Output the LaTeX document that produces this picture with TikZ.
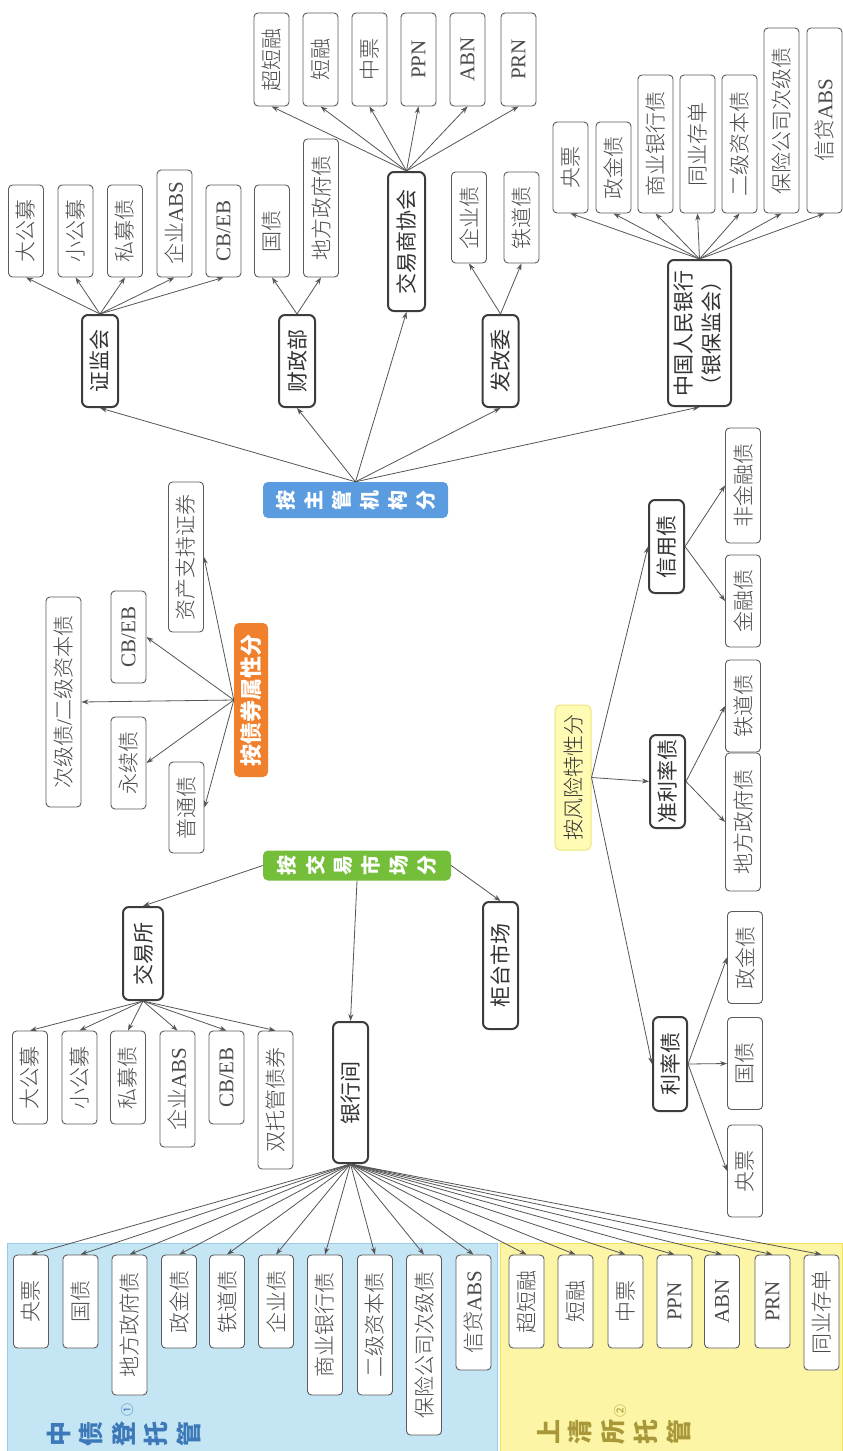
\documentclass[tikz,border=0pt]{standalone}
\usepackage{fontspec}
\usepackage{graphicx}
\setmainfont{Noto Sans CJK SC}
\IfFontExistsTF{Noto Sans CJK SC Light}{\newfontfamily\leaffont{Noto Sans CJK SC Light}}{\newfontfamily\leaffont{Noto Sans CJK SC}}
\newfontfamily\lat{Liberation Serif}
\usetikzlibrary{arrows.meta}
\definecolor{lineC}{HTML}{5C5C5C}
\definecolor{leafT}{HTML}{4A4A4A}
\definecolor{hubL}{HTML}{3C3C3C}
\definecolor{hubT}{HTML}{333333}
\definecolor{arrC}{HTML}{555555}
\definecolor{bgB}{HTML}{C4E5F3}
\definecolor{bgBL}{HTML}{9ACDE4}
\definecolor{bgY}{HTML}{FCF5A6}
\definecolor{bgYL}{HTML}{F0E05A}
\definecolor{grnA}{HTML}{74BE3A}
\definecolor{orgA}{HTML}{F0802C}
\definecolor{bluA}{HTML}{5B9BE0}
\definecolor{ylwF}{HTML}{FFFBB5}
\definecolor{ylwL}{HTML}{EDE57A}
\definecolor{lblB}{HTML}{3D79B8}
\definecolor{lblY}{HTML}{A8983A}
\newcommand\rc[1]{\rotatebox{90}{#1}}
\newcommand\lf[5]{\node[leaf,minimum height=#4pt] (#1) at (#2,#3) {\rc{#5}};}
\newcommand\hb[6]{\node[hub,minimum width=#4pt,minimum height=#5pt] (#1) at (#2,#3) {\rc{#6}};}
\newcommand\hg{\hspace{9pt}}
\begin{document}
\begin{tikzpicture}[x=1pt,y=-1pt,
  leaf/.style={draw=lineC, line width=0.9pt, rounded corners=4pt, fill=white, inner sep=0pt,
    minimum width=35pt, text=leafT, font=\leaffont\fontsize{21}{21}\selectfont},
  hub/.style={draw=hubL, line width=2pt, rounded corners=6pt, fill=white, inner sep=0pt,
    text=hubT, font=\fontsize{21}{28}\selectfont},
  hdr/.style={rounded corners=5pt, inner sep=0pt, text=white, font=\fontsize{20}{20}\selectfont\bfseries},
  arr/.style={draw=arrC, line width=0.8pt, -{Stealth[length=7pt,width=5pt]}},
  lbl/.style={inner sep=0pt, font=\fontsize{25}{25}\selectfont\bfseries}
]
\useasboundingbox (0,0) rectangle (843,1451);
\fill[white] (0,0) rectangle (843,1451);

% backgrounds
\draw[fill=bgB, draw=bgBL, line width=1pt] (7,1243) rectangle (497,1451);
\draw[fill=bgY, draw=bgYL, line width=1pt] (500,1243) rectangle (842,1451);

% ---------- 按主管机构分 ----------
\node[hdr, fill=bluA, minimum width=185pt, minimum height=36pt] (zgjg) at (355.5,500)
  {\rc{按}\hg\rc{主}\hg\rc{管}\hg\rc{机}\hg\rc{构}\hg\rc{分}};

\hb{zjh}{100}{361}{36}{92}{证监会}
\lf{zj1}{26}{231}{92}{大公募}
\lf{zj2}{75.5}{231}{92}{小公募}
\lf{zj3}{125}{231}{92}{私募债}
\lf{zj4}{174.5}{223.5}{107}{企业{\lat ABS}}
\lf{zj5}{223.5}{231}{92}{{\lat CB/EB}}

\hb{czb}{297}{361}{36}{92}{财政部}
\lf{cz1}{272}{231}{92}{国债}
\lf{cz2}{321}{208}{138}{地方政府债}

\hb{xh}{406.5}{241.5}{37}{139}{交易商协会}
\lf{xh1}{271.5}{59.5}{93}{超短融}
\lf{xh2}{320.5}{59.5}{93}{短融}
\lf{xh3}{369.5}{59.5}{93}{中票}
\lf{xh4}{418.5}{59.5}{93}{{\lat PPN}}
\lf{xh5}{467.5}{59.5}{93}{{\lat ABN}}
\lf{xh6}{518.5}{59.5}{93}{{\lat PRN}}

\hb{fgw}{500.5}{361}{36}{92}{发改委}
\lf{fg1}{469}{217.5}{91}{企业债}
\lf{fg2}{521.5}{217.5}{91}{铁道债}

\node[hub, minimum width=63pt, minimum height=146pt] (rmyh) at (699.5,333)
  {\rc{\begin{tabular}{@{}c@{}}中国人民银行\\（银保监会）\end{tabular}}};
\lf{yh1}{570.5}{167.5}{91}{央票}
\lf{yh2}{613.5}{167.5}{91}{政金债}
\lf{yh3}{655.5}{144}{138}{商业银行债}
\lf{yh4}{697.5}{144}{138}{同业存单}
\lf{yh5}{739.5}{144}{138}{二级资本债}
\lf{yh6}{781.5}{120.5}{185}{保险公司次级债}
\lf{yh7}{824.5}{120.5}{185}{信贷{\lat ABS}}

% ---------- 按债券属性分 ----------
\node[hdr, fill=orgA, minimum width=34pt, minimum height=154pt, font=\fontsize{22}{22}\selectfont\bfseries] (zxs) at (251,700) {\rc{按债券属性分}};
\lf{sx1}{186}{557}{150}{资产支持证券}
\lf{sx2}{128.5}{637}{92}{{\lat CB/EB}}
\lf{sx3}{63.5}{702}{210}{次级债{\lat /}二级资本债}
\lf{sx4}{128.5}{763}{92}{永续债}
\lf{sx5}{186.5}{807.5}{91}{普通债}

% ---------- 按交易市场分 ----------
\node[hdr, fill=grnA, minimum width=188pt, minimum height=30pt] (jysc) at (357,865.5)
  {\rc{按}\hg\rc{交}\hg\rc{易}\hg\rc{市}\hg\rc{场}\hg\rc{分}};
\hb{jyso}{143}{953.5}{40}{93}{交易所}
\hb{yhj}{350.5}{1092.5}{35}{141}{银行间}
\hb{gtsc}{500.5}{965.5}{35}{127}{柜台市场}
\lf{jo1}{30}{1077.5}{93}{大公募}
\lf{jo2}{79.5}{1077.5}{93}{小公募}
\lf{jo3}{128}{1077.5}{93}{私募债}
\lf{jo4}{177.5}{1089}{116}{企业{\lat ABS}}
\lf{jo5}{226.5}{1077.5}{93}{{\lat CB/EB}}
\lf{jo6}{275.5}{1100}{138}{双托管债券}

% bottom custody boxes
\lf{b1}{31}{1301.5}{93}{央票}
\lf{b2}{80.5}{1301.5}{93}{国债}
\lf{b3}{129.5}{1325}{140}{地方政府债}
\lf{b4}{179}{1301.5}{93}{政金债}
\lf{b5}{227}{1301.5}{93}{铁道债}
\lf{b6}{276}{1301.5}{93}{企业债}
\lf{b7}{325}{1325}{140}{商业银行债}
\lf{b8}{375}{1325}{140}{二级资本债}
\lf{b9}{424}{1345}{180}{保险公司次级债}
\lf{b10}{473.5}{1312.5}{115}{信贷{\lat ABS}}
\lf{c1}{526.5}{1301.5}{93}{超短融}
\lf{c2}{575.5}{1301.5}{93}{短融}
\lf{c3}{625.5}{1301.5}{93}{中票}
\lf{c4}{674.5}{1301.5}{93}{{\lat PPN}}
\lf{c5}{722}{1301.5}{93}{{\lat ABN}}
\lf{c6}{772.5}{1301.5}{93}{{\lat PRN}}
\lf{c7}{821.5}{1312.5}{115}{同业存单}

\node[lbl, text=lblB] (lab1) at (124,1434) {\rc{中}\hspace{9pt}\rc{债}\hspace{9pt}\rc{登}\hspace{9pt}\rc{托}\hspace{9pt}\rc{管}};
\node[inner sep=0pt, text=lblB, font=\fontsize{13}{13}\selectfont] (lab1n) at (128,1410) {\rc{①}};
\node[lbl, text=lblY] (lab2) at (614,1432) {\rc{上}\hspace{9pt}\rc{清}\hspace{9pt}\rc{所}\hspace{9pt}\rc{托}\hspace{9pt}\rc{管}};
\node[inner sep=0pt, text=lblY, font=\fontsize{13}{13}\selectfont] (lab2n) at (621,1411) {\rc{②}};

% ---------- 按风险特性分 ----------
\node[draw=ylwL, line width=1pt, fill=ylwF, rounded corners=5pt, inner sep=0pt, minimum width=36pt, minimum height=145pt,
  text=hubT, font=\leaffont\fontsize{21}{21}\selectfont] (fxtx) at (573,777.5) {\rc{按风险特性分}};
\hb{xyz}{666.5}{546.5}{35}{93}{信用债}
\lf{xy1}{743}{485.5}{115}{非金融债}
\lf{xy2}{743}{601}{92}{金融债}
\hb{zlz}{667.5}{781.5}{35}{93}{准利率债}
\lf{zl1}{743}{706}{92}{铁道债}
\lf{zl2}{743}{822}{138}{地方政府债}
\hb{llz}{670}{1064}{34}{94}{利率债}
\lf{ll1}{745}{957.5}{92}{政金债}
\lf{ll2}{745}{1063.5}{92}{国债}
\lf{ll3}{745}{1171}{92}{央票}

% ---------- connectors ----------
\foreach \t in {zjh,czb,xh,fgw,rmyh} \draw[arr] (zgjg.north) -- (\t.south);
\foreach \t in {zj1,zj2,zj3,zj4,zj5} \draw[arr] (zjh.north) -- (\t.south);
\foreach \t in {cz1,cz2} \draw[arr] (czb.north) -- (\t.south);
\foreach \t in {xh1,xh2,xh3,xh4,xh5,xh6} \draw[arr] (xh.north) -- (\t.south);
\foreach \t in {fg1,fg2} \draw[arr] (fgw.north) -- (\t.south);
\foreach \t in {yh1,yh2,yh3,yh4,yh5,yh6,yh7} \draw[arr] (rmyh.north) -- (\t.south);

\foreach \t in {sx1,sx2,sx3,sx4,sx5} \draw[arr] (zxs.west) -- (\t.east);

\draw[arr] (jysc.west) -- (jyso.north);
\draw[arr] (jysc.south) -- (yhj.north);
\draw[arr] (jysc.east) -- (gtsc.north);
\foreach \t in {jo1,jo2,jo3,jo4,jo5,jo6} \draw[arr] (jyso.south) -- (\t.north);
\foreach \t in {b1,b2,b3,b4,b5,b6,b7,b8,b9,b10,c1,c2,c3,c4,c5,c6,c7} \draw[arr] (yhj.south) -- (\t.north);

\foreach \t in {xyz,zlz,llz} \draw[arr] (fxtx.east) -- (\t.west);
\foreach \t in {xy1,xy2} \draw[arr] (xyz.east) -- (\t.west);
\foreach \t in {zl1,zl2} \draw[arr] (zlz.east) -- (\t.west);
\foreach \t in {ll1,ll2,ll3} \draw[arr] (llz.east) -- (\t.west);
\end{tikzpicture}
\end{document}
